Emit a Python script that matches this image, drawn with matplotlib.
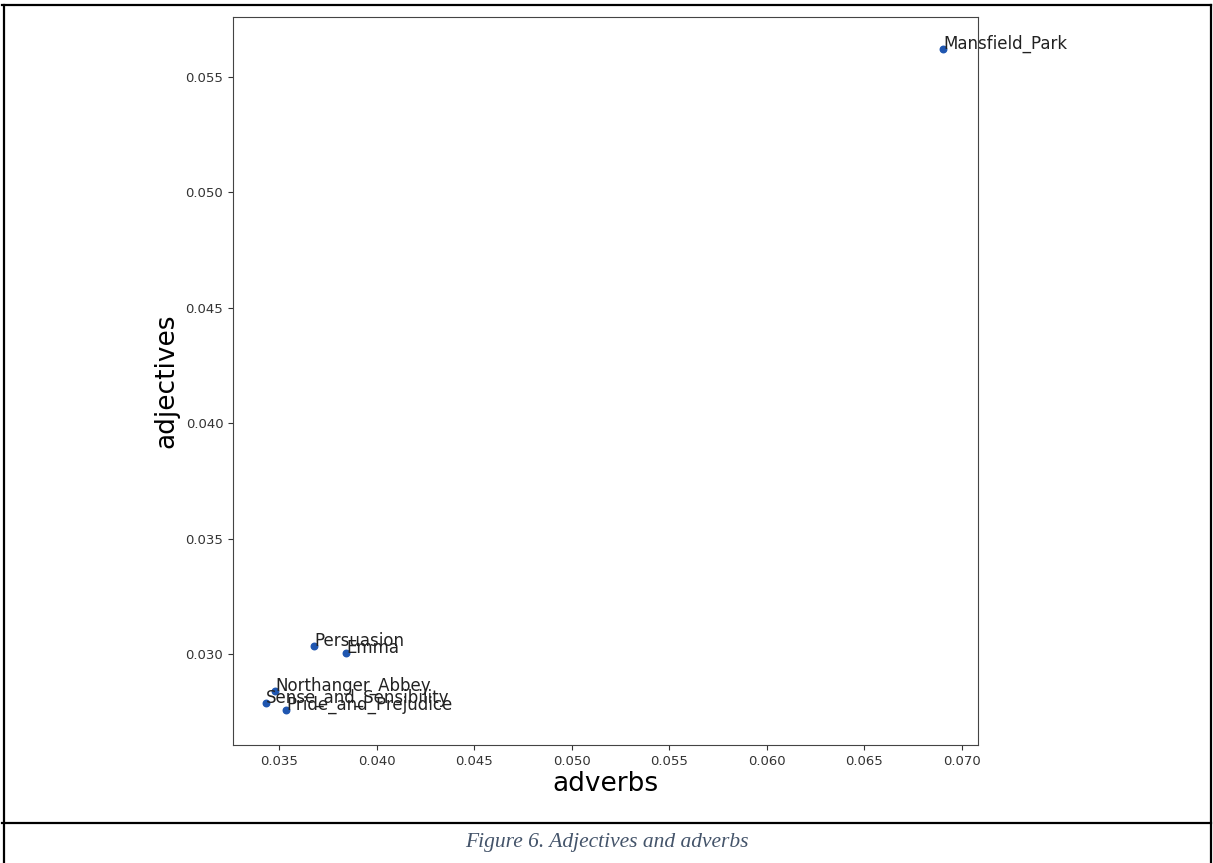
import matplotlib.pyplot as plt
from matplotlib.lines import Line2D

books = ['Mansfield_Park', 'Persuasion', 'Emma', 'Northanger_Abbey',
         'Sense_and_Sensibility', 'Pride_and_Prejudice']
adverbs = [0.06902, 0.03679, 0.03843, 0.03480, 0.03433, 0.03536]
adjectives = [0.05621, 0.03035, 0.03004, 0.02840, 0.02788, 0.02757]

fig = plt.figure(figsize=(12.13, 8.63), dpi=100)
ax = fig.add_axes([0.1921, 0.1367, 0.6142, 0.8436])

ax.scatter(adverbs, adjectives, s=22, color='#1f56b0', zorder=3)
for name, x, y in zip(books, adverbs, adjectives):
    ax.annotate(name, (x, y), fontsize=12, color='#222222')

ax.set_xlim(0.03264, 0.07082)
ax.set_ylim(0.02606, 0.0576)
ax.set_xticks([0.035, 0.040, 0.045, 0.050, 0.055, 0.060, 0.065, 0.070])
ax.set_yticks([0.030, 0.035, 0.040, 0.045, 0.050, 0.055])
ax.tick_params(labelsize=9.5, colors='#333333')
for s in ax.spines.values():
    s.set_color('#444444')
ax.set_xlabel('adverbs', fontsize=19, labelpad=2)
ax.set_ylabel('adjectives', fontsize=19, labelpad=4)

# table-cell borders around figure and caption
lw = 1.6
fig.add_artist(Line2D([0.002, 0.998], [0.994, 0.994], color='black', lw=lw))
fig.add_artist(Line2D([0.003, 0.003], [0.0, 0.994], color='black', lw=lw))
fig.add_artist(Line2D([0.998, 0.998], [0.0, 0.994], color='black', lw=lw))
fig.add_artist(Line2D([0.002, 0.998], [0.046, 0.046], color='black', lw=lw))

fig.text(0.5, 0.024, 'Figure 6. Adjectives and adverbs', ha='center', va='center',
         fontsize=15.5, style='italic', family='Liberation Serif', color='#44546a')

fig.savefig('out.png', dpi=100)
